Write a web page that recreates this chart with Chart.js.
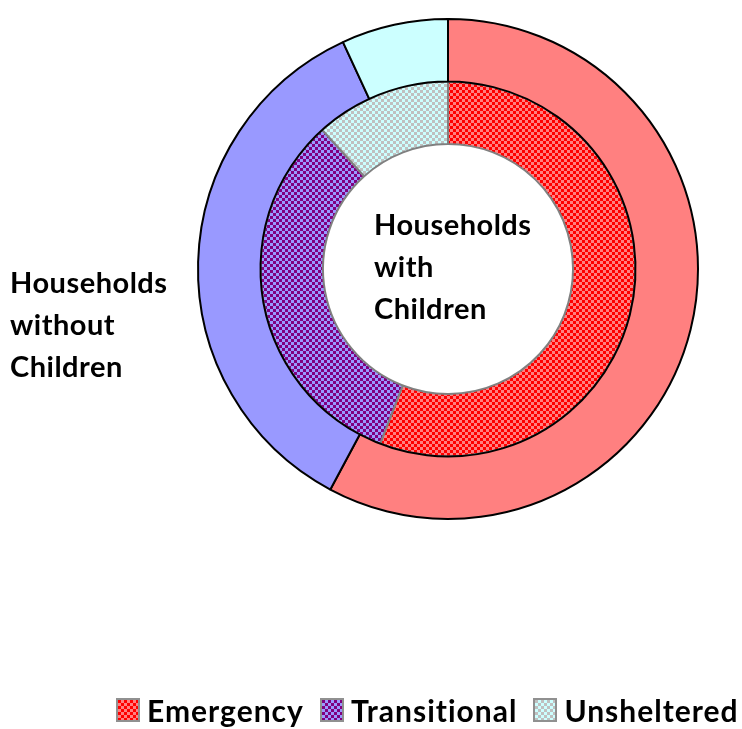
<!DOCTYPE html>
<html>
<head>
<meta charset="utf-8">
<script src="https://cdn.jsdelivr.net/npm/chart.js@4.4.1/dist/chart.umd.min.js"></script>
<style>
  html, body { margin: 0; padding: 0; background: #fff; }
  #wrap { position: relative; width: 742px; height: 729px; }
  #chart { position: absolute; left: 0; top: 0; }
  .lbl { position: absolute; font-family: Lato, sans-serif; font-weight: bold; font-size: 29px; letter-spacing: 0.5px; line-height: 42px; color: #000; white-space: nowrap; }
  #legend { position: absolute; left: 116px; top: 692px; display: flex; align-items: center; font-family: Lato, sans-serif; font-weight: bold; font-size: 30px; letter-spacing: 1px; color: #000; }
  .item { display: flex; align-items: center; margin-right: 16px; }
  .sw { width: 20px; height: 20px; border: 2px solid #909090; margin-right: 7px; }
</style>
</head>
<body>
<div id="wrap">
  <canvas id="chart" width="742" height="729"></canvas>
  <div class="lbl" id="lblOuter" style="left:10px; top:261px;"></div>
  <div class="lbl" id="lblInner" style="left:374px; top:203px;"></div>
  <div id="legend"></div>
</div>
<script>
// categories
const categories = ['Emergency', 'Transitional', 'Unsheltered'];
// outer ring: households without children (% of people)
const withoutChildren = [57.8, 35.3, 6.9];
// inner ring: households with children
const withChildren = [55.9, 32.4, 11.7];
const ringNames = ['Households without Children', 'Households with Children'];

const plainColors = ['#FF8080', '#9999FF', '#CCFFFF'];
const patternInk = ['#FF0000', '#800080', '#C0C0C0'];

// small checker pattern like the excel fill
function makeTile(bg, fg) {
	const c = document.createElement('canvas');
	c.width = 6;
	c.height = 6;
	const g = c.getContext('2d');
	g.fillStyle = bg;
	g.fillRect(0, 0, 6, 6);
	g.fillStyle = fg;
	g.fillRect(0, 0, 3, 3);
	g.fillRect(3, 3, 3, 3);
	return c;
}

const tiles = plainColors.map((bg, i) => makeTile(bg, patternInk[i]));
const ctx = document.getElementById('chart').getContext('2d');
const patterns = tiles.map((t) => ctx.createPattern(t, 'repeat'));

let chart = new Chart(ctx, {
	type: 'doughnut',
	data: {
		labels: categories,
		datasets: [
			{
				label: ringNames[0],
				data: withoutChildren,
				backgroundColor: plainColors,
				borderColor: '#000000',
				borderWidth: 2,
			},
			{
				label: ringNames[1],
				data: withChildren,
				backgroundColor: patterns,
				borderColor: '#808080',
				borderWidth: 2,
			},
		],
	},
	options: {
		responsive: false,
		animation: false,
		cutout: '50%',
		hoverOffset: 0,
		layout: {
			padding: { left: 197, right: 43, top: 18, bottom: 209 },
		},
		plugins: {
			legend: { display: false },
			tooltip: { enabled: false },
		},
	},
});

// ring labels
document.getElementById('lblOuter').innerHTML = 'Households<br>without<br>Children';
document.getElementById('lblInner').innerHTML = 'Households<br>with<br>Children';

// legend built from the categories
const legend = document.getElementById('legend');
categories.forEach((name, i) => {
	const item = document.createElement('div');
	item.className = 'item';
	const sw = document.createElement('div');
	sw.className = 'sw';
	sw.style.backgroundImage = 'url(' + tiles[i].toDataURL() + ')';
	const txt = document.createElement('span');
	txt.textContent = name;
	item.appendChild(sw);
	item.appendChild(txt);
	legend.appendChild(item);
});
</script>
</body>
</html>
